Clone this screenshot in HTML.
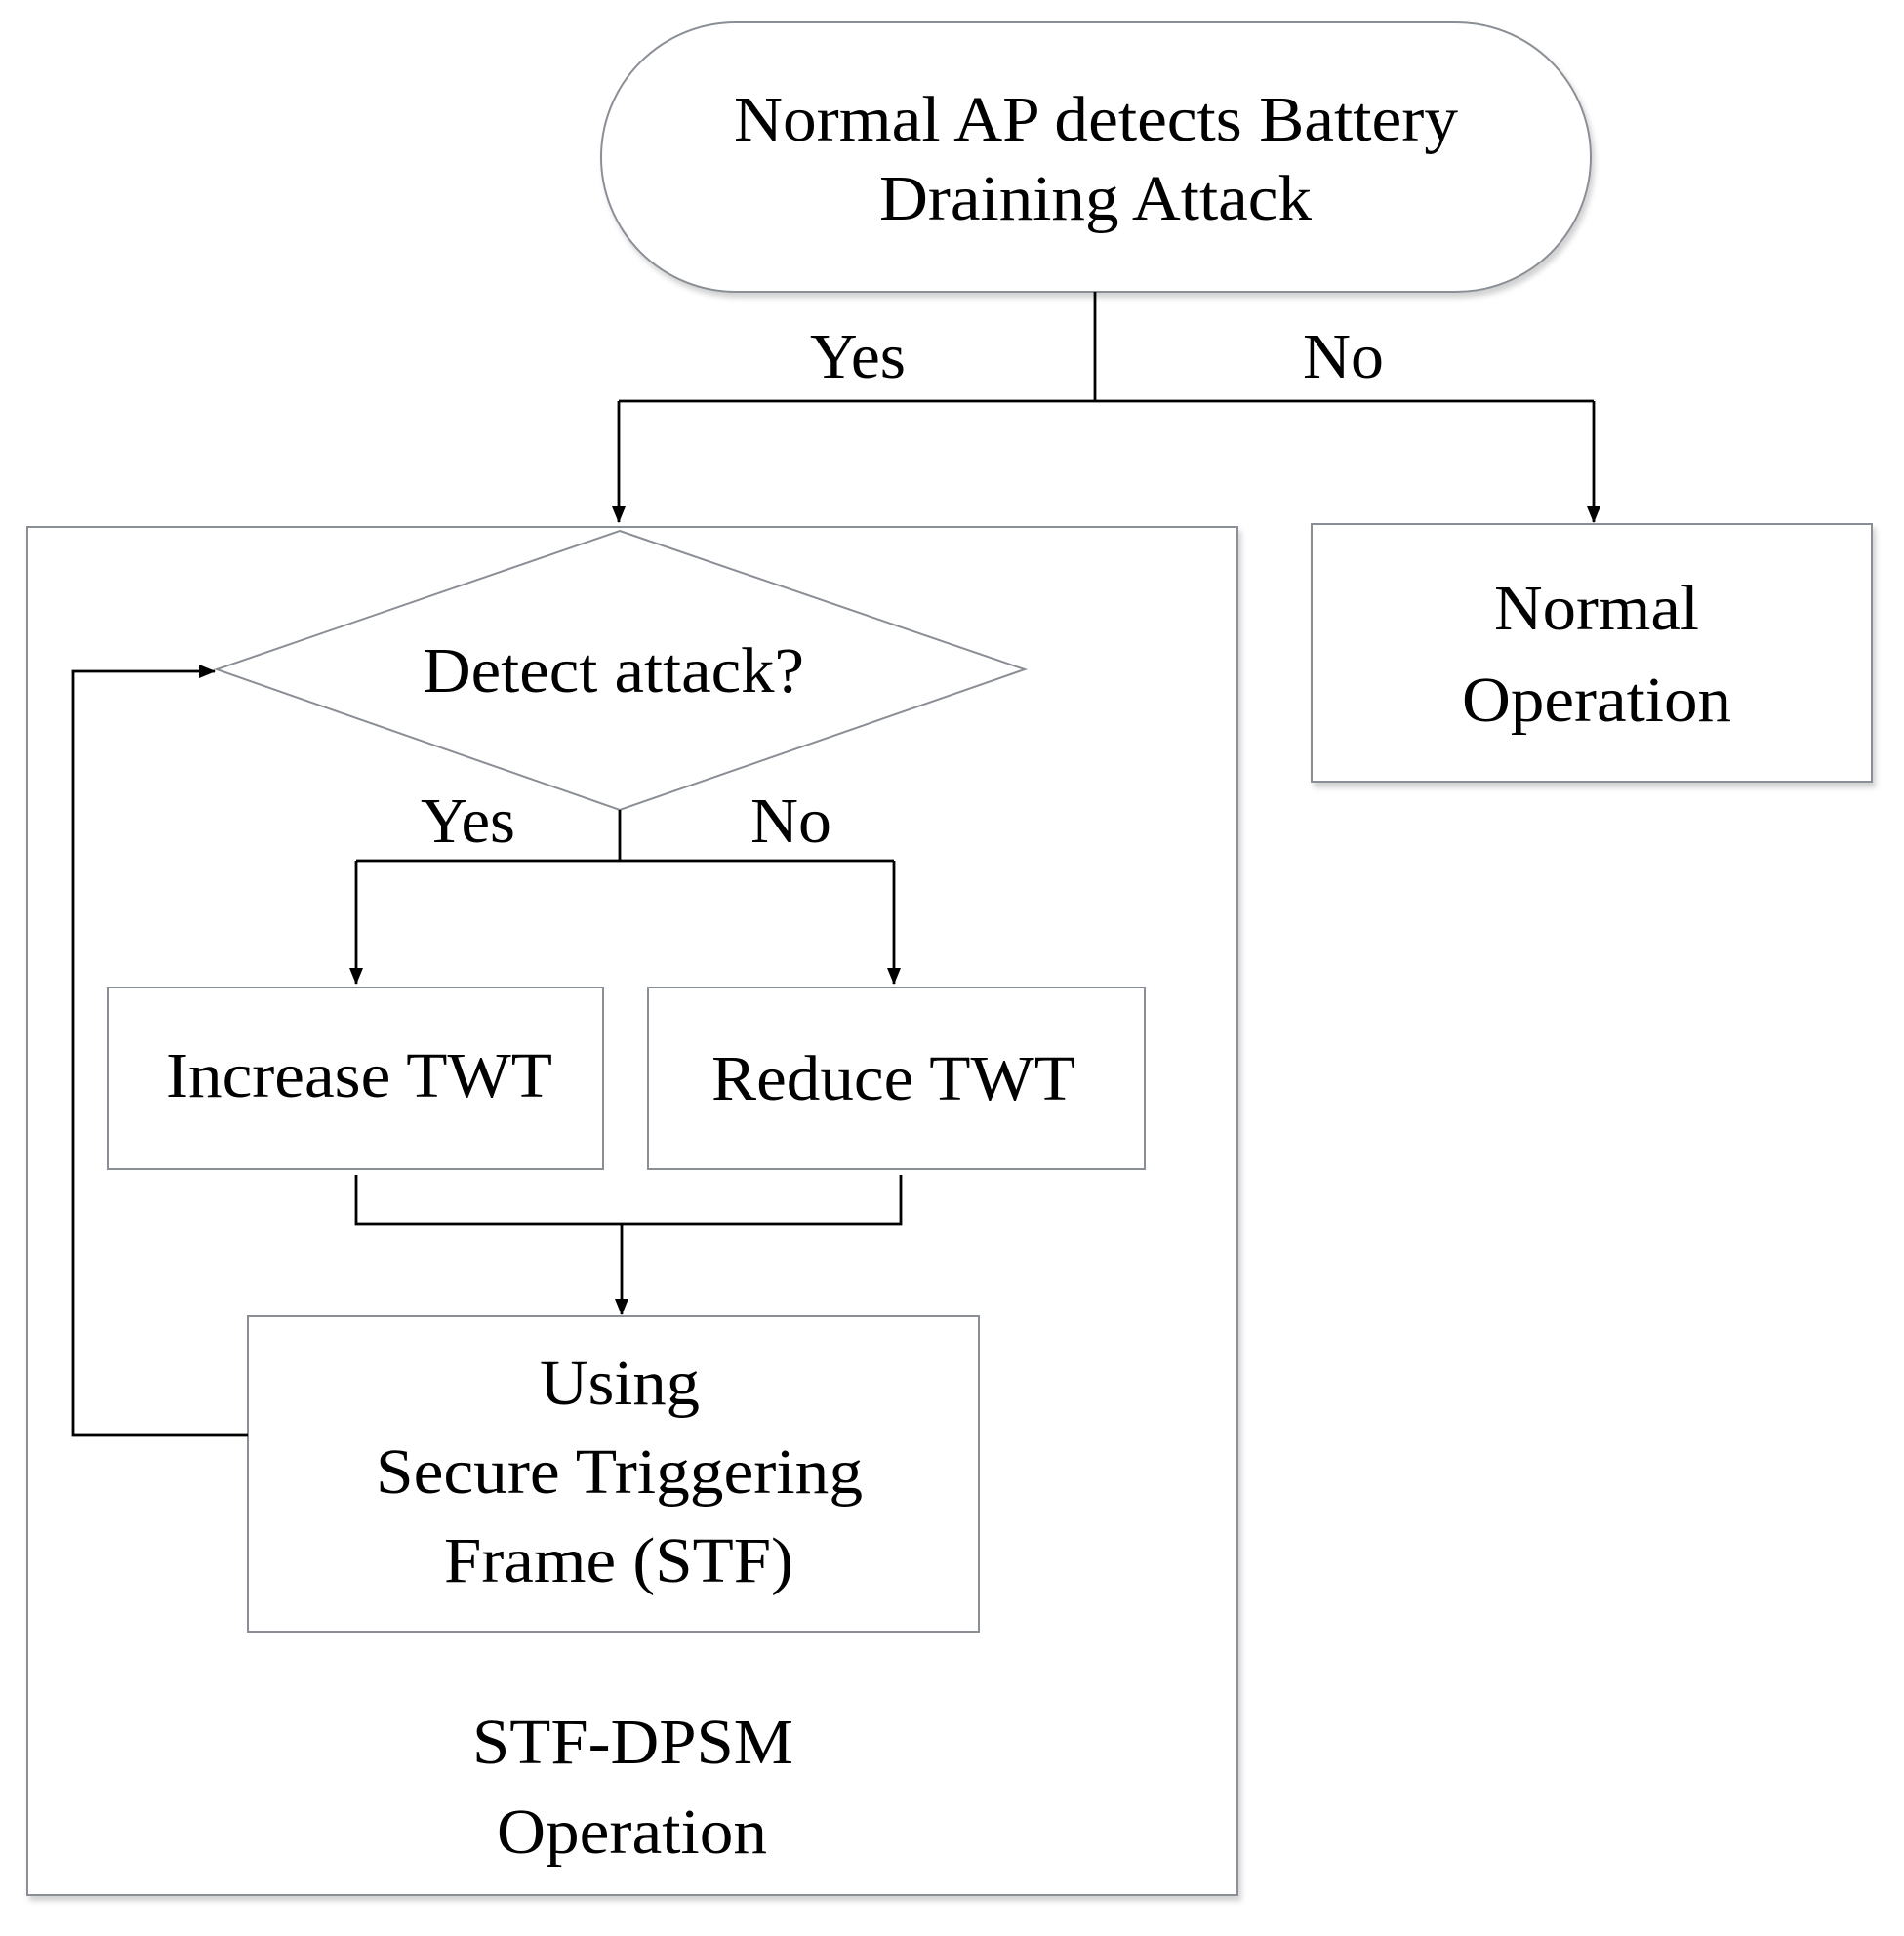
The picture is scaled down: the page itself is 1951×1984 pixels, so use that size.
<!DOCTYPE html>
<html><head><meta charset="utf-8"><style>html,body{margin:0;padding:0;background:#fff}</style></head>
<body>
<svg width="1951" height="1979" viewBox="0 0 1951 1979" xmlns="http://www.w3.org/2000/svg" font-family="'Liberation Serif', serif" font-size="66" fill="#000">
<defs>
<marker id="a" markerWidth="18" markerHeight="18" refX="16" refY="8" orient="auto" markerUnits="userSpaceOnUse"><path d="M0,1 L17,8 L0,15 z" fill="#000"/></marker>
<filter id="s" x="-5%" y="-5%" width="110%" height="115%"><feDropShadow dx="3" dy="5" stdDeviation="3" flood-color="#000" flood-opacity="0.18"/></filter>
</defs>
<g fill="#fff" stroke="#8a8f96" stroke-width="2" filter="url(#s)">
<rect x="616" y="23" width="1014" height="276" rx="138"/>
<rect x="28" y="540" width="1240" height="1402"/>
<rect x="1344" y="537" width="574" height="264"/>
<polygon points="635,544 1050,686 635,830 222,686"/>
<rect x="111" y="1012" width="507" height="186"/>
<rect x="664" y="1012" width="509" height="186"/>
<rect x="254" y="1349" width="749" height="323"/>
</g>
<g fill="none" stroke="#000" stroke-width="2.8">
<path d="M1122,299 V411"/>
<path d="M634,411 H1633"/>
<path d="M634,411 V535" marker-end="url(#a)"/>
<path d="M1633,411 V535" marker-end="url(#a)"/>
<path d="M635,830 V882"/>
<path d="M365,882 H916"/>
<path d="M365,882 V1008" marker-end="url(#a)"/>
<path d="M916,882 V1008" marker-end="url(#a)"/>
<path d="M365,1204 V1254 H923 V1204"/>
<path d="M637,1254 V1347" marker-end="url(#a)"/>
<path d="M254,1471 H75 V688 H220" marker-end="url(#a)"/>
</g>
<g lengthAdjust="spacingAndGlyphs">
<text x="752" y="144" textLength="742" lengthAdjust="spacingAndGlyphs">Normal AP detects Battery</text>
<text x="901" y="225" textLength="443" lengthAdjust="spacingAndGlyphs">Draining Attack</text>
<text x="830" y="387" textLength="98" lengthAdjust="spacingAndGlyphs">Yes</text>
<text x="1335" y="387" textLength="83" lengthAdjust="spacingAndGlyphs">No</text>
<text x="1531" y="645" textLength="210" lengthAdjust="spacingAndGlyphs">Normal</text>
<text x="1498" y="739" textLength="276" lengthAdjust="spacingAndGlyphs">Operation</text>
<text x="433" y="709" textLength="391" lengthAdjust="spacingAndGlyphs">Detect attack?</text>
<text x="431" y="863" textLength="97" lengthAdjust="spacingAndGlyphs">Yes</text>
<text x="769" y="863" textLength="83" lengthAdjust="spacingAndGlyphs">No</text>
<text x="170" y="1124" textLength="396" lengthAdjust="spacingAndGlyphs">Increase TWT</text>
<text x="729" y="1127" textLength="373" lengthAdjust="spacingAndGlyphs">Reduce TWT</text>
<text x="553" y="1439" textLength="164" lengthAdjust="spacingAndGlyphs">Using</text>
<text x="385" y="1530" textLength="499" lengthAdjust="spacingAndGlyphs">Secure Triggering</text>
<text x="455" y="1621" textLength="358" lengthAdjust="spacingAndGlyphs">Frame (STF)</text>
<text x="484" y="1807" textLength="329" lengthAdjust="spacingAndGlyphs">STF-DPSM</text>
<text x="509" y="1899" textLength="277" lengthAdjust="spacingAndGlyphs">Operation</text>
</g>
</svg>
</body></html>
